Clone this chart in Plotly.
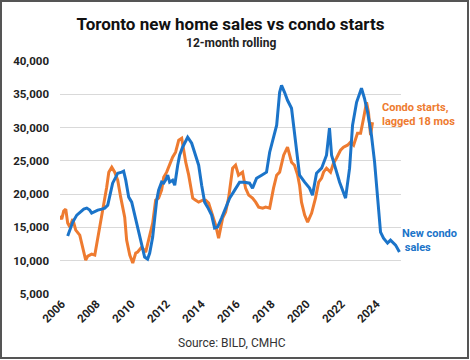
import plotly.graph_objects as go

# New condo sales (12-month rolling), decimal years
sales_x = [2006.34, 2006.46, 2006.63, 2006.86, 2007.03, 2007.26, 2007.43, 2007.60, 2007.71, 2007.89,
           2008.06, 2008.29, 2008.46, 2008.63, 2008.74, 2008.91, 2009.09, 2009.20, 2009.43, 2009.54,
           2009.66, 2009.83, 2010.00, 2010.17, 2010.34, 2010.51, 2010.63, 2010.74, 2010.91, 2011.03,
           2011.20, 2011.31, 2011.43, 2011.54, 2011.71, 2011.83, 2011.94, 2012.06, 2012.17, 2012.34,
           2012.46, 2012.63, 2012.74, 2012.91, 2013.20, 2013.43, 2013.60, 2013.83, 2014.00, 2014.17,
           2014.34, 2014.57, 2014.74, 2014.91, 2015.14, 2015.37, 2015.60, 2015.89, 2016.17, 2016.46,
           2016.74, 2016.91, 2017.14, 2017.43, 2017.71, 2017.89, 2018.11, 2018.29, 2018.46, 2018.57,
           2018.74, 2018.91, 2019.14, 2019.31, 2019.43, 2019.60, 2019.89, 2020.17, 2020.34, 2020.57,
           2020.86, 2021.14, 2021.31, 2021.43, 2021.60, 2021.89, 2022.23, 2022.46, 2022.63, 2022.86,
           2023.14, 2023.31, 2023.49, 2023.71, 2023.89, 2024.06, 2024.23, 2024.40, 2024.63, 2024.80,
           2024.91, 2025.09, 2025.31]
sales_y = [13700, 14600, 15800, 16850, 17300, 17750, 17900, 17600, 17150, 17450,
           17600, 17750, 17900, 18350, 19550, 21650, 22550, 23150, 23300, 23450,
           22100, 19550, 18800, 16850, 15050, 13100, 12050, 10550, 10250, 11150,
           13550, 16550, 19100, 20600, 21800, 21650, 22100, 22850, 21800, 22100,
           21350, 24350, 25850, 27050, 28550, 27650, 26300, 24350, 21350, 18800,
           18050, 16850, 14900, 15050, 16400, 17900, 19400, 20600, 21800, 21800,
           21650, 20900, 22400, 22850, 23300, 26300, 28500, 30350, 35300, 36350,
           35300, 34100, 32900, 28850, 26300, 22850, 21800, 20900, 19850, 23150,
           23900, 25850, 29900, 25850, 24350, 21800, 19400, 23900, 30350, 33800,
           35900, 34400, 32300, 28850, 24800, 19850, 14300, 13400, 12650, 13100,
           12800, 12350, 11300]

# Condo starts, lagged 18 months
starts_x = [2005.89, 2006.00, 2006.11, 2006.23, 2006.34, 2006.46, 2006.63, 2006.80, 2007.03, 2007.20,
            2007.37, 2007.49, 2007.71, 2007.89, 2008.06, 2008.23, 2008.34, 2008.46, 2008.57, 2008.69,
            2008.86, 2009.03, 2009.20, 2009.37, 2009.60, 2009.71, 2009.89, 2010.06, 2010.23, 2010.34,
            2010.57, 2010.80, 2010.97, 2011.20, 2011.37, 2011.54, 2011.71, 2011.83, 2012.00, 2012.11,
            2012.34, 2012.51, 2012.69, 2012.86, 2013.09, 2013.26, 2013.49, 2013.66, 2013.83, 2014.06,
            2014.23, 2014.40, 2014.63, 2014.80, 2014.97, 2015.20, 2015.37, 2015.54, 2015.77, 2015.94,
            2016.11, 2016.34, 2016.51, 2016.69, 2016.91, 2017.09, 2017.26, 2017.49, 2017.66, 2017.89,
            2018.11, 2018.29, 2018.46, 2018.69, 2018.91, 2019.14, 2019.31, 2019.49, 2019.60, 2019.71,
            2019.89, 2020.06, 2020.29, 2020.51, 2020.69, 2020.86, 2020.97, 2021.14, 2021.37, 2021.54,
            2021.71, 2021.94, 2022.11, 2022.34, 2022.51, 2022.69, 2022.91, 2023.09, 2023.26, 2023.43,
            2023.54, 2023.66, 2023.77]
starts_y = [16700, 16250, 17450, 17750, 15650, 15050, 16250, 14600, 13850, 12050,
            10100, 10700, 11000, 10850, 13400, 15650, 17600, 19000, 21050, 23300,
            24050, 23300, 22100, 19550, 16550, 13100, 10850, 9650, 11150, 11300,
            12050, 11300, 13100, 15650, 19100, 19400, 20600, 22550, 23300, 24050,
            25550, 26300, 28100, 28400, 24800, 22850, 19400, 19100, 18800, 19100,
            19100, 18650, 16850, 15350, 13400, 16400, 17300, 19400, 23900, 24350,
            22850, 23300, 20900, 19850, 19400, 18800, 18050, 17900, 18050, 17900,
            20900, 22850, 23300, 25850, 27050, 24800, 24350, 22850, 21350, 18800,
            16850, 15800, 17150, 19400, 21800, 22400, 23300, 23900, 23300, 24650,
            25400, 26600, 27050, 27350, 27800, 27350, 29150, 29150, 31400, 33800,
            32300, 28850, 30800]

year_ticks = [2006, 2008, 2010, 2012, 2014, 2016, 2018, 2020, 2022, 2024]
y_ticks = [5000, 10000, 15000, 20000, 25000, 30000, 35000, 40000]

BLUE = "#1B74C9"
ORANGE = "#EE7B30"
FONT = "Roboto"

fig = go.Figure()
fig.add_trace(go.Scatter(x=starts_x, y=starts_y, mode="lines",
                         line=dict(color=ORANGE, width=3), showlegend=False))
fig.add_trace(go.Scatter(x=sales_x, y=sales_y, mode="lines",
                         line=dict(color=BLUE, width=3), showlegend=False))

W, H = 470, 360
ml, mr, mt, mb = 60, 69, 61, 66
pw, ph = W - ml - mr, H - mt - mb

def px2paper_x(px):
    return (px - ml) / pw

def py2paper_y(py):
    return (H - mb - py) / ph

fig.update_layout(
    width=W, height=H,
    margin=dict(l=ml, r=mr, t=mt, b=mb),
    paper_bgcolor="white", plot_bgcolor="white",
    font=dict(family=FONT, color="#222222"),
    title=dict(text="<b>Toronto new home sales vs condo starts</b>",
               x=0.5, xref="paper", xanchor="center",
               y=1 - 24 / H, yanchor="middle",
               font=dict(size=17, color="#111111", family=FONT)),
    xaxis=dict(range=[2005.9, 2025.4], tickvals=year_ticks,
               ticktext=[str(t) for t in year_ticks], tickangle=-45,
               showgrid=False, zeroline=False, showline=False, ticks="",
               tickfont=dict(size=11.5, color="#222222", weight="bold")),
    yaxis=dict(range=[5000, 40000], tickvals=y_ticks, tickformat=",",
               showgrid=True, gridcolor="#D9D9D9", gridwidth=1,
               zeroline=False, showline=False, ticks="", ticklabelstandoff=10,
               tickfont=dict(size=11.5, color="#222222", weight="bold")),
)

fig.add_annotation(text="<b>12-month rolling</b>", xref="paper", yref="paper",
                   x=0.5, y=py2paper_y(43), xanchor="center", yanchor="middle",
                   showarrow=False, font=dict(size=12, color="#222222"))
fig.add_annotation(text="<b>Condo starts,<br>lagged 18 mos</b>", xref="paper", yref="paper",
                   x=px2paper_x(380), y=py2paper_y(114), xanchor="left", yanchor="middle",
                   align="left", showarrow=False, font=dict(size=11, color=ORANGE))
fig.add_annotation(text="<b>New condo<br> sales</b>", xref="paper", yref="paper",
                   x=px2paper_x(400), y=py2paper_y(240), xanchor="left", yanchor="middle",
                   align="left", showarrow=False, font=dict(size=11, color=BLUE))
fig.add_annotation(text="Source: BILD, CMHC", xref="paper", yref="paper",
                   x=px2paper_x(232), y=py2paper_y(343), xanchor="center", yanchor="middle",
                   showarrow=False, font=dict(size=12, color="#333333"))

fig.add_shape(type="rect", xref="paper", yref="paper",
              x0=px2paper_x(1), x1=px2paper_x(468), y0=py2paper_y(358), y1=py2paper_y(1),
              line=dict(color="#555555", width=2), fillcolor="rgba(0,0,0,0)")

fig.write_html("out.html", config={"displayModeBar": False},
               post_script="document.body.style.margin='0';")
